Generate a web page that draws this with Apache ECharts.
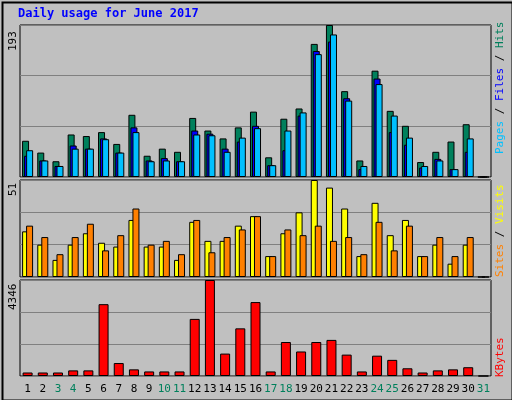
<!DOCTYPE html>
<html><head><meta charset="utf-8">
<script src="https://cdn.jsdelivr.net/npm/echarts@6/dist/echarts.min.js"></script>
<style>html,body{margin:0;padding:0;background:#fff}#chart{width:512px;height:400px}</style>
</head><body><div id="chart"></div>
<script>
// Daily usage for June 2017

var days = [];
for (var d = 1; d <= 31; d++) days.push(String(d));
var weekends = ['3', '4', '10', '11', '17', '18', '24', '25', '31'];

var hits   = [46,31,20,54,52,57,42,79,27,36,32,75,59,49,63,83,25,74,87,169,193,109,21,135,84,65,19,32,45,67,0];
var files  = [27,21,14,40,36,49,31,63,21,24,20,59,55,36,45,65,15,34,78,160,172,100,10,125,57,41,12,23,10,32,0];
var pages  = [34,21,14,36,36,48,31,57,20,21,20,54,53,32,50,62,15,59,82,156,181,97,14,118,78,50,14,21,10,49,0];
var visits = [24,17,9,17,23,18,16,30,16,16,9,29,19,19,27,32,11,23,34,51,47,36,11,39,22,30,11,17,7,17,0];
var sites  = [27,21,12,21,28,14,22,36,17,19,12,30,13,21,25,32,11,25,22,27,19,21,12,29,14,27,11,21,11,21,0];
var kbytes = [159,159,159,254,254,3252,587,301,206,206,206,2585,4346,1015,2157,3347,206,1539,1110,1539,1634,968,206,920,730,349,159,254,301,397,0];

var maxTop = 193, maxMid = 51, maxBot = 4346;
var mono = 'DejaVu Sans Mono';
var f11 = '11px ' + mono;

var dom = document.getElementById('chart');
var myChart = echarts.init(dom);

function grid(top, h) {
    return { left: 20, right: 21, top: top, height: h, show: true,
             backgroundColor: '#C0C0C0', borderColor: '#000', borderWidth: 1 };
}
function xax(i, show) {
    return {
        type: 'category', gridIndex: i, data: days,
        axisLine: { show: false }, axisTick: { show: false },
        axisLabel: {
            show: show, fontFamily: mono, fontSize: 11, margin: 8, interval: 0,
            color: function (v) { return weekends.indexOf(v) >= 0 ? '#00805C' : '#000'; }
        }
    };
}
function yax(i, max) {
    return {
        type: 'value', gridIndex: i, min: 0, max: max, interval: max / 3,
        axisLabel: { show: false }, axisLine: { show: false }, axisTick: { show: false },
        splitLine: { lineStyle: { color: '#808080', width: 1 } }
    };
}
function bar(i, data, color, width, gap) {
    var s = { type: 'bar', xAxisIndex: i, yAxisIndex: i, data: data, barWidth: width,
              itemStyle: { color: color, borderColor: '#000', borderWidth: 1 }, silent: true };
    if (gap !== undefined) s.barGap = gap;
    return s;
}
// vertical text reading bottom-to-top, starting at (x, y)
function vtext(x, y, text, fill, rich) {
    var st = { text: text, font: f11, fill: fill, align: 'left', verticalAlign: 'middle' };
    if (rich) st.rich = rich;
    return { type: 'text', x: x, y: y, rotation: Math.PI / 2, style: st, silent: true };
}
function r(c) { return { fill: c, font: f11 }; }

var option = {
    animation: false,
    backgroundColor: '#C0C0C0',
    grid: [grid(25, 152), grid(180, 97), grid(280, 96)],
    xAxis: [xax(0, false), xax(1, false), xax(2, true)],
    yAxis: [yax(0, maxTop), yax(1, maxMid), yax(2, maxBot)],
    series: [
        bar(0, hits, '#00805C', 7, '-71%'),
        bar(0, files, '#0000FF', 7, '-71%'),
        bar(0, pages, '#00C0FF', 7, '-71%'),
        bar(1, visits, '#FFFF00', 7, '-43%'),
        bar(1, sites, '#FF8000', 7, '-43%'),
        bar(2, kbytes, '#FF0000', 10)
    ],
    graphic: [
        { type: 'rect', left: 0, top: 0, shape: { width: 510, height: 398 },
          style: { fill: 'none', stroke: '#000', lineWidth: 2 }, silent: true },
        { type: 'text', left: 18, top: 8,
          style: { text: 'Daily usage for June 2017', font: 'bold 12px ' + mono, fill: '#0000FF' } },
        vtext(13, 51, String(maxTop), '#000'),
        vtext(13, 196, String(maxMid), '#000'),
        vtext(13, 310, String(maxBot), '#000'),
        vtext(500, 154, '{p|Pages} {s|/} {f|Files} {s|/} {h|Hits}', '#000',
              { p: r('#00C0FF'), f: r('#0000FF'), h: r('#00805C'), s: r('#000') }),
        vtext(500, 277, '{a|Sites} {s|/} {b|Visits}', '#000',
              { a: r('#FF8000'), b: r('#FFFF00'), s: r('#000') }),
        vtext(500, 377, 'KBytes', '#FF0000')
    ]
};

myChart.setOption(option);
</script>
</body></html>
